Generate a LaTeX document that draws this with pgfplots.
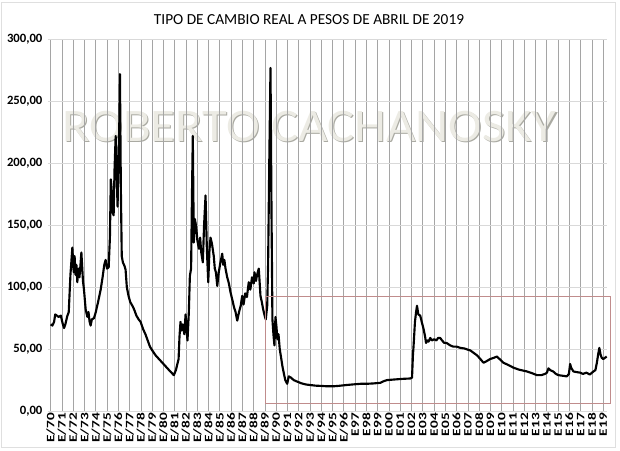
\documentclass[border=0pt]{standalone}
\usepackage{pgfplots}
\pgfplotsset{compat=1.18}
\usepackage{fontspec}
\setmainfont{Carlito}

\definecolor{vgrid}{RGB}{165,165,165}
\definecolor{hgrid}{RGB}{217,217,217}
\definecolor{boxred}{RGB}{192,140,140}
\definecolor{wmface}{RGB}{236,235,228}
\definecolor{wmshadow}{RGB}{170,170,162}

\begin{document}
\begin{tikzpicture}
% watermark sits under the grid and the series
\node[anchor=base, font=\fontsize{35}{35}\selectfont, text=wmshadow, xscale=1.09] at (197.0pt,201.2pt) {ROBERTO CACHANOSKY};
\node[anchor=base, font=\fontsize{35}{35}\selectfont, text=wmface, xscale=1.09] at (196.1pt,202pt) {ROBERTO CACHANOSKY};

\begin{axis}[
    at={(0,0)}, anchor=south west,
    scale only axis,
    width=419.25pt, height=278.8pt,
    xmin=1969.76, xmax=2019.33,
    ymin=0, ymax=300,
    axis line style={draw=none},
    major tick length=0pt,
    xtick={1970,...,2019},
    xticklabels={E/70,E/71,E/72,E/73,E/74,E/75,E/76,E/77,E/78,E/79,E/80,E/81,E/82,E/83,E/84,E/85,E/86,E/87,E/88,E/89,E/90,E/91,E/92,E/93,E/94,E/95,E/96,E97,E98,E99,E00,E01,E02,E03,E04,E05,E06,E07,E08,E09,E10,E11,E12,E13,E14,E15,E16,E17,E18,E19},
    ytick={0,50,...,300},
    yticklabels={{0,00},{50,00},{100,00},{150,00},{200,00},{250,00},{300,00}},
    xmajorgrids, ymajorgrids,
    x grid style={vgrid, line width=0.6pt},
    y grid style={hgrid, line width=0.6pt},
    x tick label style={font=\bfseries\fontsize{8.5}{9}\selectfont, rotate=90, xscale=1.35, anchor=east, inner sep=1pt},
    y tick label style={font=\bfseries\fontsize{9.5}{10}\selectfont, anchor=east, inner sep=1pt, xshift=-3pt},
    clip=false,
]
\addplot[black, line width=1.6pt, line join=round] coordinates {
(1970.00,70) (1970.15,69) (1970.30,72) (1970.40,78) (1970.55,77) (1970.70,76) (1970.90,77)
(1971.05,71) (1971.18,67) (1971.30,70) (1971.45,76) (1971.60,80) (1971.75,110) (1971.92,132)
(1972.00,118) (1972.04,112) (1972.12,125) (1972.20,110) (1972.28,118) (1972.36,104) (1972.45,115)
(1972.55,108) (1972.64,118) (1972.72,128) (1972.80,115) (1972.86,105) (1972.95,98)
(1973.10,82) (1973.25,76) (1973.35,80) (1973.45,72) (1973.54,69) (1973.65,74) (1973.84,75)
(1974.00,80) (1974.20,88) (1974.43,98) (1974.60,108) (1974.75,118) (1974.87,122)
(1975.00,115) (1975.14,116) (1975.25,140) (1975.33,187) (1975.40,180) (1975.50,160) (1975.58,158)
(1975.66,195) (1975.76,222) (1975.85,190) (1975.93,165) (1976.00,200) (1976.08,230) (1976.14,272)
(1976.22,180) (1976.30,125) (1976.40,120) (1976.55,117) (1976.64,114) (1976.75,100) (1976.90,93)
(1977.05,88) (1977.24,85) (1977.40,82) (1977.60,77) (1977.80,74) (1977.97,72)
(1978.20,66) (1978.40,62) (1978.56,58) (1978.80,52) (1979.00,49) (1979.30,45) (1979.60,42)
(1980.00,38) (1980.30,35) (1980.60,32) (1980.92,29) (1981.10,33) (1981.34,42) (1981.42,60)
(1981.51,72) (1981.60,65) (1981.70,70) (1981.85,62) (1981.96,78) (1982.05,65) (1982.13,57)
(1982.25,80) (1982.34,109) (1982.45,115) (1982.52,170) (1982.60,222) (1982.69,136) (1982.78,155)
(1982.90,149) (1983.00,138) (1983.14,131) (1983.25,140) (1983.35,128) (1983.49,120) (1983.60,150)
(1983.73,174) (1983.85,130) (1983.97,104) (1984.08,130) (1984.17,140) (1984.30,135) (1984.46,125)
(1984.55,115) (1984.65,112) (1984.77,101) (1984.90,112) (1985.05,120) (1985.21,127) (1985.30,118)
(1985.40,122) (1985.50,115) (1985.65,108) (1985.80,103) (1985.94,96) (1986.10,90) (1986.25,84)
(1986.39,80) (1986.54,73) (1986.70,80) (1986.85,85) (1986.98,93) (1987.10,86) (1987.25,95)
(1987.40,92) (1987.56,104) (1987.70,98) (1987.85,108) (1988.00,103) (1988.07,112) (1988.20,105)
(1988.30,110) (1988.45,115) (1988.52,105) (1988.60,93) (1988.72,88) (1988.84,82) (1989.00,76)
(1989.07,74) (1989.20,85) (1989.28,120) (1989.38,200) (1989.49,277) (1989.58,160) (1989.66,74)
(1989.75,62) (1989.84,53) (1989.93,76) (1990.02,68) (1990.10,58) (1990.20,62) (1990.31,50)
(1990.45,42) (1990.55,36) (1990.66,31) (1990.80,25) (1990.97,22) (1991.11,28) (1991.30,27)
(1991.55,25) (1991.80,24) (1992.20,22.5) (1992.60,21.5) (1993.03,21) (1993.50,20.5) (1994.00,20.3)
(1994.50,20) (1995.09,20) (1995.60,20.4) (1996.20,21) (1996.80,21.5) (1997.46,22) (1998.00,22)
(1998.60,22.3) (1999.23,22.8) (1999.50,24) (1999.82,25) (2000.50,25.5) (2001.20,26) (2001.89,26.3)
(2002.04,27) (2002.12,45) (2002.18,53) (2002.30,72) (2002.40,80) (2002.48,85) (2002.60,78)
(2002.77,77) (2002.90,72) (2003.07,66) (2003.20,60) (2003.28,55) (2003.40,57) (2003.50,56)
(2003.66,59) (2003.80,57) (2004.00,58) (2004.20,57) (2004.35,59) (2004.54,59) (2004.70,57)
(2004.90,55) (2005.10,55) (2005.43,53) (2005.70,52) (2006.00,52) (2006.32,51) (2006.70,50.5)
(2007.00,49.5) (2007.20,49) (2007.50,47) (2007.80,45) (2008.10,42) (2008.38,39) (2008.60,40)
(2008.97,42) (2009.30,43) (2009.57,44) (2009.80,42) (2010.15,39) (2010.50,37.5) (2011.04,35)
(2011.50,33.5) (2012.22,32) (2012.70,30.5) (2013.11,29) (2013.50,29) (2013.84,30) (2014.00,31)
(2014.14,34.5) (2014.30,33) (2014.55,32) (2014.80,30) (2015.02,29) (2015.40,28.5) (2015.77,28)
(2015.95,30) (2016.06,38) (2016.15,35) (2016.35,32) (2016.60,31.5) (2016.95,31) (2017.20,30)
(2017.50,31) (2017.80,29.5) (2018.00,31) (2018.13,32) (2018.30,33) (2018.43,39) (2018.55,46)
(2018.65,51) (2018.75,46) (2018.86,43) (2019.00,42) (2019.15,43) (2019.30,44)
};
\end{axis}

\draw[boxred, line width=0.7pt] (162.75pt,6pt) rectangle (421.5pt,85.7pt);
\node[anchor=base, font=\fontsize{11.5}{12}\selectfont] at (195.75pt,289.9pt) {TIPO DE CAMBIO REAL A PESOS DE ABRIL DE 2019};
\draw[gray!25, line width=0.6pt] (-34.9pt,-27pt) rectangle (425.25pt,306.75pt);

\pgfresetboundingbox
\path (-36pt,-29.25pt) rectangle (429pt,308.3pt);
\end{tikzpicture}
\end{document}
